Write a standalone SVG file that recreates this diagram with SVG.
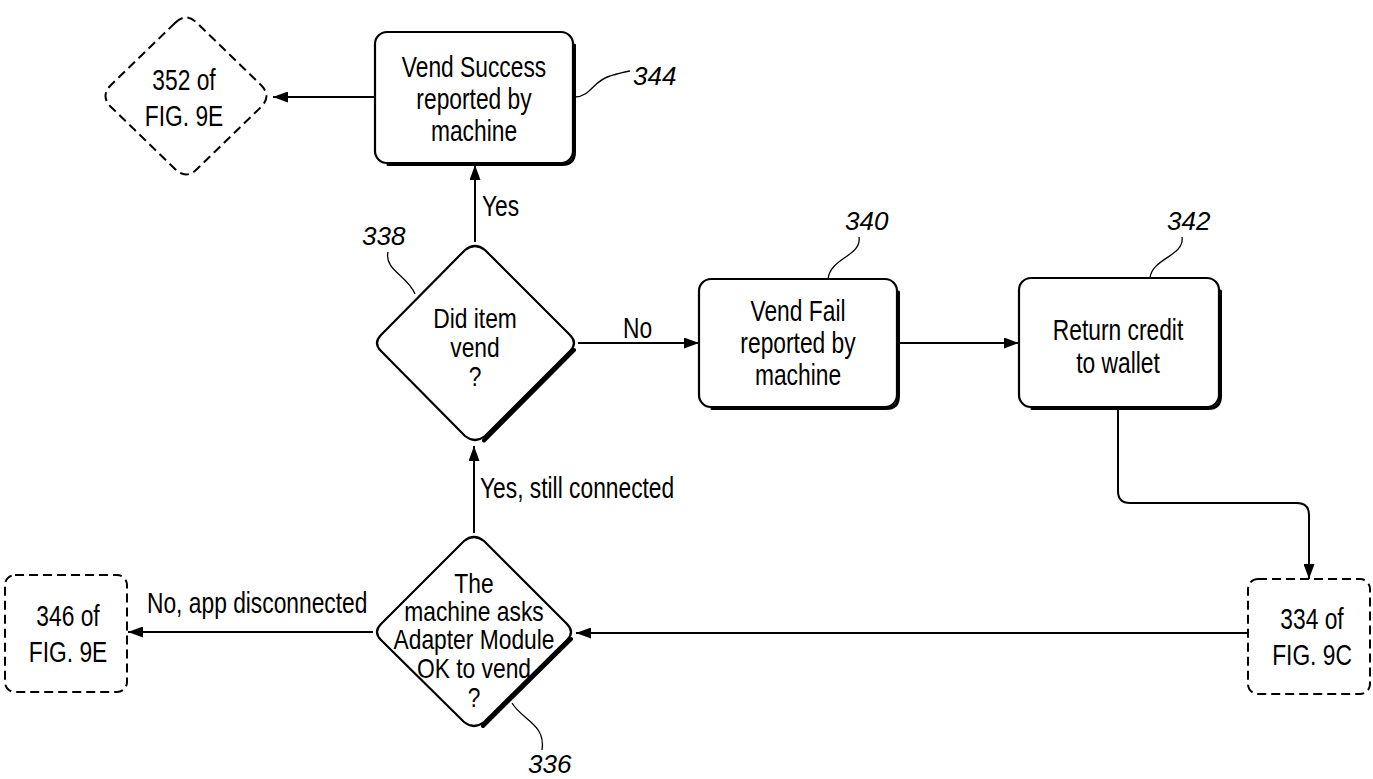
<svg xmlns="http://www.w3.org/2000/svg" width="1373" height="779" viewBox="0 0 1373 779">
<defs>
<marker id="ah" markerUnits="userSpaceOnUse" markerWidth="15" markerHeight="11" refX="15" refY="5.5" orient="auto">
<path d="M0,0 L15,5.5 L0,11 z" fill="#000"/>
</marker>
</defs>
<style>
.bg{fill:#fff}
.box{fill:#fff;stroke:#000;stroke-width:2.2}
.sh{fill:none;stroke:#000;stroke-width:3;stroke-linecap:round}
.dash{fill:#fff;stroke:#000;stroke-width:2;stroke-dasharray:9 5}
.c{fill:none;stroke:#000;stroke-width:2}
.ld{fill:none;stroke:#000;stroke-width:1.3}
.t{font-family:"Liberation Sans",Arial,sans-serif;font-size:30px;fill:#000;text-anchor:middle}
.d{font-family:"Liberation Sans",Arial,sans-serif;font-size:27px;fill:#000;text-anchor:middle}
.e{font-family:"Liberation Sans",Arial,sans-serif;font-size:30px;fill:#000}
.n{font-family:"Liberation Sans",Arial,sans-serif;font-size:26px;font-style:italic;fill:#000}
</style>
<rect class="bg" x="0" y="0" width="1373" height="779"/>

<g id="connectors">
<line class="c" x1="375" y1="97" x2="273" y2="97" marker-end="url(#ah)"/>
<line class="c" x1="475" y1="242" x2="475" y2="165" marker-end="url(#ah)"/>
<line class="c" x1="578" y1="343" x2="699" y2="343" marker-end="url(#ah)"/>
<line class="c" x1="898" y1="343" x2="1019" y2="343" marker-end="url(#ah)"/>
<path class="c" d="M1118,409 V491 Q1118,503 1130,503 H1297 Q1309,503 1309,515 V579" marker-end="url(#ah)"/>
<line class="c" x1="1247" y1="633" x2="576" y2="633" marker-end="url(#ah)"/>
<line class="c" x1="474" y1="533" x2="474" y2="446" marker-end="url(#ah)"/>
<line class="c" x1="373" y1="632" x2="128" y2="632" marker-end="url(#ah)"/>
<g transform="translate(482,0) scale(0.76,1)"><text class="e" x="0" y="216">Yes</text></g>
<g transform="translate(623,0) scale(0.76,1)"><text class="e" x="0" y="338">No</text></g>
<g transform="translate(480,0) scale(0.76,1)"><text class="e" x="0" y="498">Yes, still connected</text></g>
<g transform="translate(147,0) scale(0.76,1)"><text class="e" x="0" y="613">No, app disconnected</text></g>
</g>

<g id="n352">
<path class="dash" d="M175,23 Q186,12 197,23 L261,85 Q272,96 261,107 L197,169 Q186,180 175,169 L111,107 Q100,96 111,85 Z"/>
<g transform="translate(184,0) scale(0.76,1)"><text class="t" x="0" y="90">352 of</text><text class="t" x="0" y="126">FIG. 9E</text></g>
</g>

<g id="n344">
<rect class="box" x="375" y="32" width="198" height="131" rx="12"/>
<path class="sh" d="M574.5,45 V152 Q574.5,164.5 562,164.5 H388"/>
<g transform="translate(474,0) scale(0.76,1)"><text class="t" x="0" y="77">Vend Success</text><text class="t" x="0" y="109">reported by</text><text class="t" x="0" y="141">machine</text></g>
<path class="ld" d="M575,97 C590,97 594,80 610,76 C620,73 624,72 630,71"/>
<text class="n" x="633" y="85">344</text>
</g>

<g id="n338">
<path class="box" d="M465,250 Q475,242 485,250 L570,335 Q578,343 570,351 L485,436 Q475,444 465,436 L381,351 Q373,343 381,335 Z"/>
<path class="sh" style="stroke-width:4" d="M574,350 L484,440.5"/>
<g transform="translate(475,0) scale(0.845,1)"><text class="d" x="0" y="328">Did item</text><text class="d" x="0" y="357">vend</text><text class="d" x="0" y="386">?</text></g>
<path class="ld" d="M388,252 C384,270 408,276 415,294"/>
<text class="n" x="362" y="245">338</text>
</g>

<g id="n340">
<rect class="box" x="699" y="279" width="198" height="128" rx="12"/>
<path class="sh" d="M898.5,292 V396 Q898.5,408.5 886,408.5 H712"/>
<g transform="translate(798,0) scale(0.76,1)"><text class="t" x="0" y="321">Vend Fail</text><text class="t" x="0" y="353">reported by</text><text class="t" x="0" y="385">machine</text></g>
<path class="ld" d="M859,237 C862,256 830,258 828,279"/>
<text class="n" x="845" y="230">340</text>
</g>

<g id="n342">
<rect class="box" x="1019" y="278" width="200" height="129" rx="12"/>
<path class="sh" d="M1220.5,291 V396 Q1220.5,408.5 1208,408.5 H1032"/>
<g transform="translate(1118,0) scale(0.76,1)"><text class="t" x="0" y="340">Return credit</text><text class="t" x="0" y="373">to wallet</text></g>
<path class="ld" d="M1182,237 C1185,256 1152,258 1150,278"/>
<text class="n" x="1167" y="230">342</text>
</g>

<g id="n334">
<rect class="dash" x="1248" y="579" width="122" height="115" rx="10"/>
<g transform="translate(1312,0) scale(0.76,1)"><text class="t" x="0" y="629">334 of</text><text class="t" x="0" y="665">FIG. 9C</text></g>
</g>

<g id="n336">
<path class="box" d="M464,541 Q474,533 484,541 L567,624 Q575,632 567,640 L484,722 Q474,730 464,722 L381,640 Q373,632 381,624 Z"/>
<path class="sh" style="stroke-width:4" d="M571,639 L483,726"/>
<g transform="translate(474,0) scale(0.845,1)"><text class="d" x="0" y="593">The</text><text class="d" x="0" y="621">machine asks</text><text class="d" x="0" y="649">Adapter Module</text><text class="d" x="0" y="678">OK to vend</text><text class="d" x="0" y="707">?</text></g>
<path class="ld" d="M512,703 C522,720 546,724 542,750"/>
<text class="n" x="528" y="773">336</text>
</g>

<g id="n346">
<rect class="dash" x="5" y="575" width="122" height="117" rx="10"/>
<g transform="translate(68,0) scale(0.76,1)"><text class="t" x="0" y="626">346 of</text><text class="t" x="0" y="662">FIG. 9E</text></g>
</g>
</svg>
